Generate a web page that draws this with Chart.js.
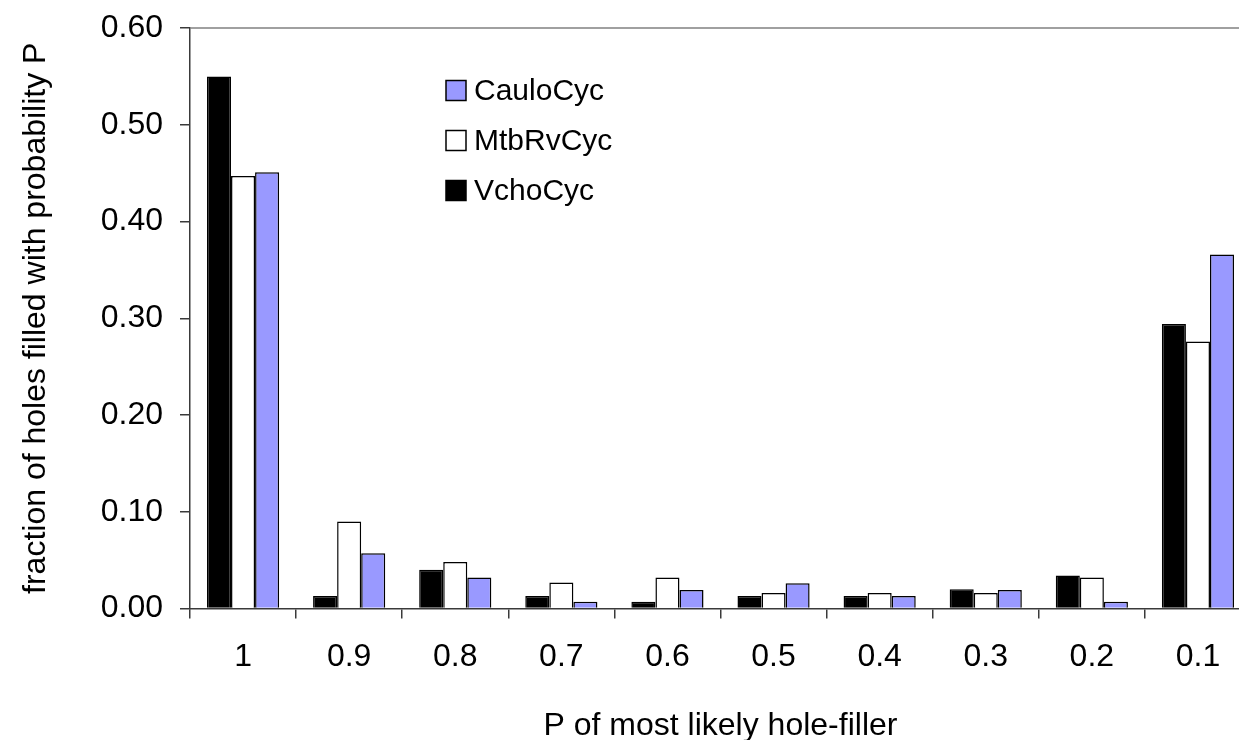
<!DOCTYPE html>
<html>
<head>
<meta charset="utf-8">
<script src="https://cdn.jsdelivr.net/npm/chart.js@4.4.1/dist/chart.umd.min.js"></script>
<style>
  html, body { margin: 0; padding: 0; background: #fff; overflow: hidden; }
  #grafico { display: block; }
</style>
</head>
<body>
<canvas id="grafico" width="1252" height="740"></canvas>
<script>
// Datos
const categorias = ['1', '0.9', '0.8', '0.7', '0.6', '0.5', '0.4', '0.3', '0.2', '0.1'];
const vchoCyc   = [0.550, 0.013, 0.040, 0.013, 0.007, 0.013, 0.013, 0.020, 0.034, 0.294];
const mtbRvCyc  = [0.447, 0.090, 0.048, 0.027, 0.032, 0.016, 0.016, 0.016, 0.032, 0.276];
const cauloCyc  = [0.451, 0.057, 0.032, 0.007, 0.019, 0.026, 0.013, 0.019, 0.007, 0.366];
const ticksY    = [0, 0.1, 0.2, 0.3, 0.4, 0.5, 0.6];

const fuente = "'Liberation Sans', Arial, sans-serif";
const colorEje = '#3a3a3a';

// Leyenda dentro del área del gráfico (orden inverso, como el original)
const leyendaInterna = {
  id: 'leyendaInterna',
  afterDraw(chart) {
    const ctx = chart.ctx;
    const items = chart.data.datasets.slice().reverse();
    ctx.save();
    ctx.font = '30px ' + fuente;
    ctx.textBaseline = 'middle';
    ctx.textAlign = 'left';
    items.forEach((ds, i) => {
      const y = 90.5 + i * 50;
      ctx.fillStyle = ds.backgroundColor;
      ctx.fillRect(446, y - 10, 20, 20);
      ctx.strokeStyle = '#000';
      ctx.lineWidth = 1.5;
      ctx.strokeRect(446, y - 10, 20, 20);
      ctx.fillStyle = '#000';
      ctx.fillText(ds.label, 474, y + 1);
    });
    ctx.restore();
  }
};

// Línea gris del marco superior del área de trazado
const marcoSuperior = {
  id: 'marcoSuperior',
  beforeDatasetsDraw(chart) {
    const { ctx, chartArea } = chart;
    ctx.save();
    ctx.strokeStyle = '#808080';
    ctx.lineWidth = 1.5;
    ctx.beginPath();
    ctx.moveTo(chartArea.left, chartArea.top);
    ctx.lineTo(chartArea.right, chartArea.top);
    ctx.stroke();
    ctx.restore();
  }
};

const ctx = document.getElementById('grafico').getContext('2d');
new Chart(ctx, {
  type: 'bar',
  data: {
    labels: categorias,
    datasets: [
      { label: 'VchoCyc', data: vchoCyc, backgroundColor: '#000000', borderColor: '#000', borderWidth: 1.5 },
      { label: 'MtbRvCyc', data: mtbRvCyc, backgroundColor: '#ffffff', borderColor: '#000', borderWidth: 1.5 },
      { label: 'CauloCyc', data: cauloCyc, backgroundColor: '#9999ff', borderColor: '#000', borderWidth: 1.5 }
    ]
  },
  options: {
    responsive: false,
    animation: false,
    devicePixelRatio: 1,
    layout: { padding: { top: 28, right: 1, left: 0, bottom: 0 } },
    datasets: { bar: { categoryPercentage: 0.68, barPercentage: 1 } },
    plugins: {
      legend: { display: false },
      tooltip: { enabled: false }
    },
    scales: {
      x: {
        grid: { display: true, drawOnChartArea: false, drawTicks: true, tickLength: 10, color: colorEje, lineWidth: 1.5, offset: true },
        border: { color: colorEje, width: 1.5 },
        ticks: { color: '#000', font: { family: fuente, size: 32 }, padding: 19, maxRotation: 0 },
        title: {
          display: true,
          text: 'P of most likely hole-filler',
          color: '#000',
          font: { family: fuente, size: 32, lineHeight: 0.875 },
          padding: { top: 0, bottom: 0 }
        },
        afterFit(scale) { scale.height = 131.5; }
      },
      y: {
        min: 0,
        max: 0.6,
        afterBuildTicks(scale) { scale.ticks = ticksY.map(v => ({ value: v })); },
        grid: { display: true, drawOnChartArea: false, drawTicks: true, tickLength: 10, color: colorEje, lineWidth: 1.5 },
        border: { color: colorEje, width: 1.5 },
        ticks: {
          color: '#000',
          font: { family: fuente, size: 32 },
          padding: 17,
          callback: v => Number(v).toFixed(2)
        },
        title: {
          display: true,
          text: 'fraction of holes filled with probability P',
          color: '#000',
          font: { family: fuente, size: 32, lineHeight: 1 },
          padding: { top: 20, bottom: 0 }
        },
        afterFit(scale) {
          scale.width = 190;
          scale.paddingTop = 0;
          scale.paddingBottom = 0;
        }
      }
    }
  },
  plugins: [marcoSuperior, leyendaInterna]
});
</script>
</body>
</html>
